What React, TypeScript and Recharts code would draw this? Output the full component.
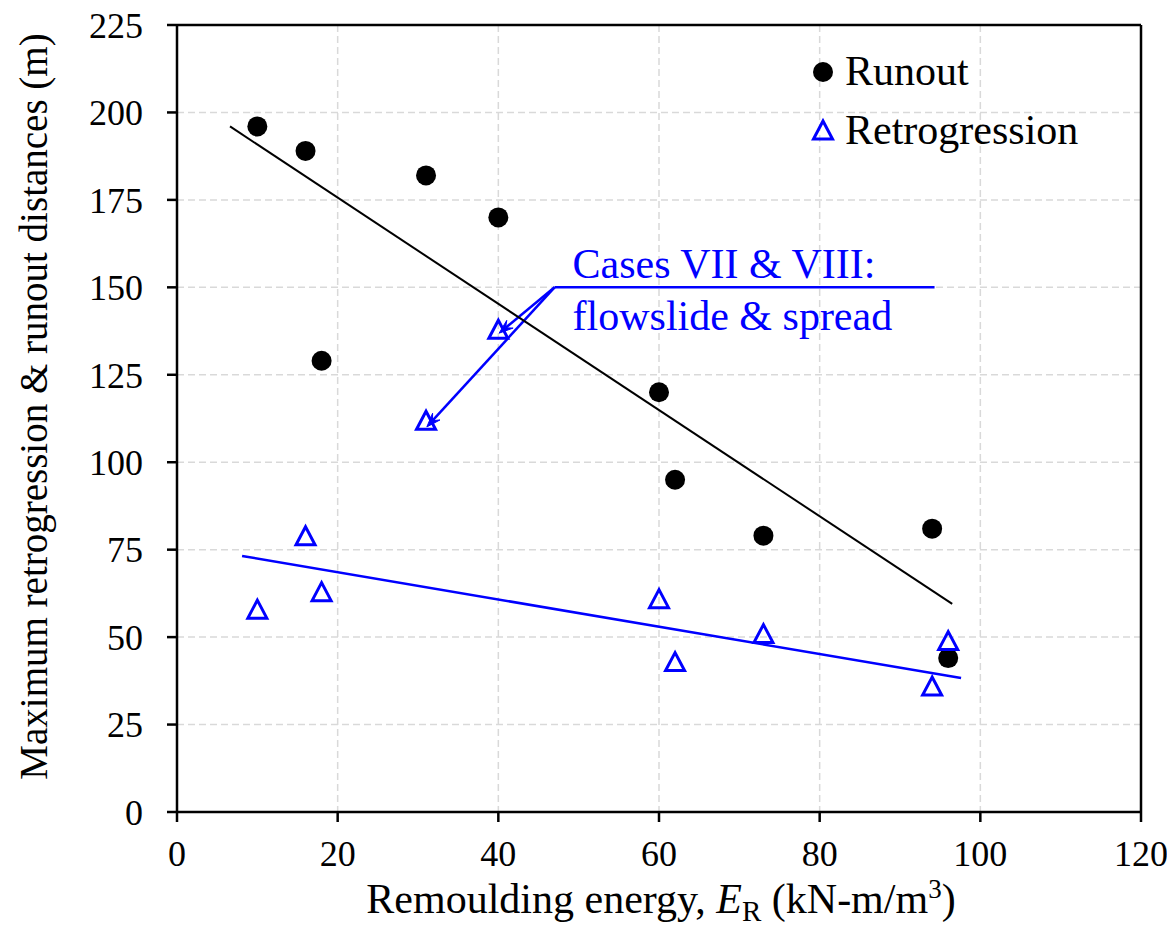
import {
  ScatterChart,
  Scatter,
  XAxis,
  YAxis,
  CartesianGrid,
  ReferenceLine,
  Label,
} from "recharts";

const energy = [10, 16, 18, 31, 40, 60, 62, 73, 94, 96];
const runout = [196, 189, 129, 182, 170, 120, 95, 79, 81, 44];
const retrogression = [58, 79, 63, 112, 138, 61, 43, 51, 36, 49];

// fitted trend lines (end points)
const runoutTrendX = [6.6, 96.5];
const runoutTrendY = [196, 59.5];
const retroTrendX = [8.1, 97.6];
const retroTrendY = [73.2, 38.3];

// callout: elbow point, end of the leader and the two flagged cases
const calloutStart = { x: 47, y: 150 };
const calloutEnd = { x: 94.3, y: 150 };
const calloutTargets = [
  { x: 40.1, y: 136.9 },
  { x: 31.1, y: 110.1 },
];
const calloutText = ["Cases VII & VIII:", "flowslide & spread"];

const seriesNames = ["Runout", "Retrogression"];

const xTicks = [0, 20, 40, 60, 80, 100, 120];
const yTicks = [0, 25, 50, 75, 100, 125, 150, 175, 200, 225];

const FONT = '"Liberation Serif", "Times New Roman", serif';
const BLUE = "#0000ff";

const toPoints = (xs: number[], ys: number[]) =>
  xs.map((x, i) => ({ x, y: ys[i] }));

const runoutData = toPoints(energy, runout);
const retroData = toPoints(energy, retrogression);
const runoutTrend = toPoints(runoutTrendX, runoutTrendY);
const retroTrend = toPoints(retroTrendX, retroTrendY);

const Dot = (p: any) => <circle cx={p.cx} cy={p.cy} r={10} fill="#000" />;

const Tri = (p: any) => (
  <polygon
    points={`${p.cx},${p.cy - 9} ${p.cx - 9.5},${p.cy + 9} ${p.cx + 9.5},${p.cy + 9}`}
    fill="none"
    stroke={BLUE}
    strokeWidth={3}
  />
);

const NoShape = () => <g />;

const Arrow = (p: any) => {
  const { x1, y1, x2, y2 } = p;
  const ang = Math.atan2(y2 - y1, x2 - x1);
  const len = 14;
  const w = 5;
  const bx = x2 - len * Math.cos(ang);
  const by = y2 - len * Math.sin(ang);
  const nx = -Math.sin(ang);
  const ny = Math.cos(ang);
  const mx = x2 - len * 0.6 * Math.cos(ang);
  const my = y2 - len * 0.6 * Math.sin(ang);
  return (
    <g>
      <line x1={x1} y1={y1} x2={mx} y2={my} stroke={BLUE} strokeWidth={2.5} />
      <polygon
        points={`${x2},${y2} ${bx + nx * w},${by + ny * w} ${mx},${my} ${bx - nx * w},${by - ny * w}`}
        fill={BLUE}
        stroke={BLUE}
        strokeWidth={1}
      />
    </g>
  );
};

const Leader = (p: any) => {
  const { x1, y1, x2, y2 } = p;
  return (
    <g>
      <line x1={x1} y1={y1} x2={x2} y2={y2} stroke={BLUE} strokeWidth={2.5} />
      <text x={x1 + 18} y={y1 - 9} fill={BLUE} fontSize={42} fontFamily={FONT}>
        {calloutText[0]}
      </text>
      <text x={x1 + 18} y={y1 + 43} fill={BLUE} fontSize={42} fontFamily={FONT}>
        {calloutText[1]}
      </text>
    </g>
  );
};

const LegendBox = () => (
  <svg
    width={330}
    height={130}
    style={{ position: "absolute", left: 795, top: 30, pointerEvents: "none" }}
  >
    <circle cx={20} cy={34} r={10} fill="#000" />
    <text x={42} y={47} fontSize={42} fontFamily={FONT} fill="#000">
      {seriesNames[0]}
    </text>
    <polygon points="20,83 10.5,101 29.5,101" fill="none" stroke={BLUE} strokeWidth={3} />
    <text x={42} y={106} fontSize={42} fontFamily={FONT} fill="#000">
      {seriesNames[1]}
    </text>
  </svg>
);

const XTitle = (props: any) => {
  const vb = props.viewBox || { x: 169, y: 804, width: 964, height: 100 };
  const cx = vb.x + vb.width / 2 + 2;
  const y = vb.y + 101;
  return (
    <text x={cx} y={y} textAnchor="middle" fontSize={42} fontFamily={FONT} fill="#000">
      Remoulding energy,{" "}
      <tspan fontStyle="italic">E</tspan>
      <tspan fontSize={29} dy={8}>R</tspan>
      <tspan dy={-8}> (kN-m/m</tspan>
      <tspan fontSize={27} dy={-15}>3</tspan>
      <tspan dy={15}>)</tspan>
    </text>
  );
};

const YTitle = (props: any) => {
  const vb = props.viewBox || { x: 49, y: 17, width: 120, height: 787 };
  const x = vb.x - 10;
  const cy = vb.y + vb.height / 2 - 12;
  return (
    <text
      x={x}
      y={cy}
      transform={`rotate(-90, ${x}, ${cy})`}
      textAnchor="middle"
      fontSize={39}
      fontFamily={FONT}
      fill="#000"
    >
      Maximum retrogression &amp; runout distances (m)
    </text>
  );
};

export default function App() {
  const axisStroke = { stroke: "#000", strokeWidth: 2.5 };
  const tickStyle = { fontSize: 36, fontFamily: FONT, fill: "#000" };
  return (
    <div style={{ width: 1160, height: 920, position: "relative" }}>
      <ScatterChart
        width={1160}
        height={920}
        margin={{ top: 17, right: 27, left: 49, bottom: 16 }}
      >
        <CartesianGrid stroke="#d9d9d9" strokeDasharray="7 4" strokeWidth={1.5} />
        <XAxis
          type="number"
          dataKey="x"
          domain={[0, 120]}
          ticks={xTicks}
          height={100}
          axisLine={axisStroke}
          tickLine={axisStroke}
          tickSize={10}
          tickMargin={18}
          tick={tickStyle}
          interval={0}
        >
          <Label content={XTitle} />
        </XAxis>
        <YAxis
          type="number"
          dataKey="y"
          domain={[0, 225]}
          ticks={yTicks}
          width={120}
          axisLine={axisStroke}
          tickLine={axisStroke}
          tickSize={10}
          tickMargin={24}
          tick={tickStyle}
          interval={0}
        >
          <Label content={YTitle} />
        </YAxis>
        <ReferenceLine y={225} stroke="#000" strokeWidth={2.5} />
        <ReferenceLine x={120} stroke="#000" strokeWidth={2.5} />
        <Scatter
          data={runoutTrend}
          line={{ stroke: "#000", strokeWidth: 2 }}
          shape={NoShape}
          legendType="none"
          isAnimationActive={false}
        />
        <Scatter
          data={retroTrend}
          line={{ stroke: BLUE, strokeWidth: 2.5 }}
          shape={NoShape}
          legendType="none"
          isAnimationActive={false}
        />
        <ReferenceLine segment={[calloutStart, calloutEnd]} shape={Leader} />
        {calloutTargets.map((t, i) => (
          <ReferenceLine key={i} segment={[calloutStart, t]} shape={Arrow} />
        ))}
        <Scatter name={seriesNames[0]} data={runoutData} shape={Dot} isAnimationActive={false} />
        <Scatter
          name={seriesNames[1]}
          data={retroData}
          shape={Tri}
          isAnimationActive={false}
        />
      </ScatterChart>
      <LegendBox />
    </div>
  );
}
